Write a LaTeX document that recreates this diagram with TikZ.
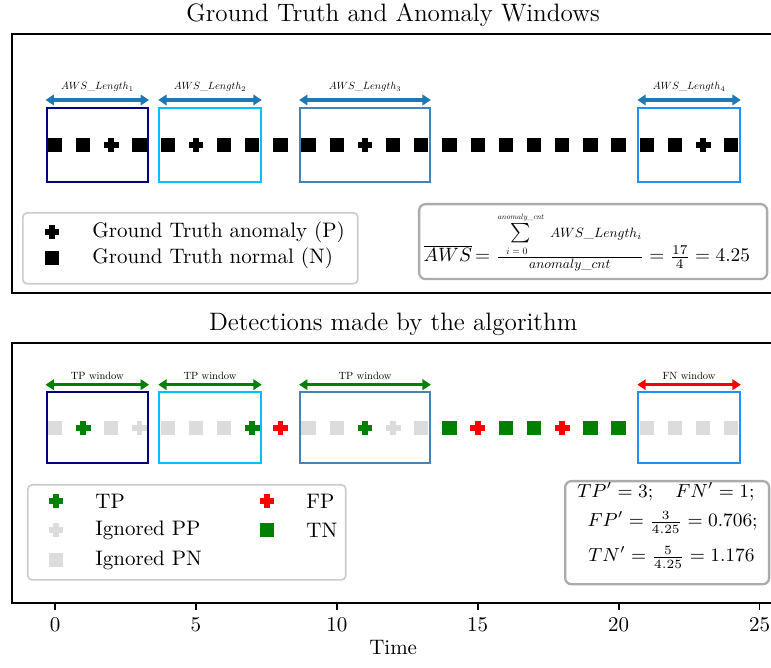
\documentclass[tikz,border=0pt]{standalone}
\usepackage{amsmath}
\usetikzlibrary{arrows.meta}
\definecolor{tabblue}{HTML}{1F77B4}
\definecolor{navywin}{HTML}{000080}
\definecolor{skywin}{HTML}{00BFFF}
\definecolor{steelwin}{HTML}{4682B4}
\definecolor{dodgerwin}{HTML}{1E90FF}
\definecolor{tpgreen}{HTML}{008000}
\definecolor{fpred}{HTML}{FF0000}
\definecolor{ignoredgray}{HTML}{DCDCDC}
\definecolor{legedge}{HTML}{CCCCCC}
\definecolor{boxedge}{HTML}{ABABAB}
\tikzset{
  sqmark/.style={rectangle, fill=#1, inner sep=0pt, minimum size=6.8pt},
  pics/plusmark/.style={code={
    \fill[#1] (-3.5pt,-1.4pt) rectangle (3.5pt,1.4pt);
    \fill[#1] (-1.4pt,-3.5pt) rectangle (1.4pt,3.5pt);}},
  winbox/.style={rectangle, draw=#1, line width=1pt, inner sep=0pt},
  winarrow/.style={color=#1, line width=1.6pt, {Triangle[width=5pt,length=4pt]}-{Triangle[width=5pt,length=4pt]}},
  winlabel/.style={scale=0.5, inner sep=0pt},
  legbox/.style={rectangle, draw=legedge, fill=white, line width=0.8pt, rounded corners=2pt, inner sep=0pt, anchor=north west},
  mathbox/.style={rectangle, draw=boxedge, fill=white, line width=1.1pt, rounded corners=3pt, inner sep=0pt, anchor=north west},
  legtext/.style={anchor=west, inner sep=0pt},
  scoretext/.style={anchor=base east, inner sep=0pt, font=\fontsize{9}{11}\selectfont},
  axisline/.style={line width=0.9pt, line cap=rect},
  tickline/.style={line width=0.9pt}
}
\begin{document}
\begin{tikzpicture}[x=13.428pt, y=-0.4765pt]
\useasboundingbox (-1.9517,0) rectangle (25.408,668);
\draw[axisline] (25.408,34) -- (-1.526,34) -- (-1.526,293) -- (25.408,293);
\node[font=\large, anchor=base] (gttitle) at (12,21.4) {Ground Truth and Anomaly Windows};
\node[winbox=navywin, minimum width=48.3pt, minimum height=35.3pt] (gw1) at (1.5,145) {};
\node[winbox=skywin, minimum width=48.3pt, minimum height=35.3pt] (gw2) at (5.5,145) {};
\node[winbox=steelwin, minimum width=61.8pt, minimum height=35.3pt] (gw3) at (11,145) {};
\node[winbox=dodgerwin, minimum width=48.3pt, minimum height=35.3pt] (gw4) at (22.5,145) {};
\draw[winarrow=tabblue] ([yshift=3.3pt]gw1.north west) -- ([yshift=3.3pt]gw1.north east);
\draw[winarrow=tabblue] ([yshift=3.3pt]gw2.north west) -- ([yshift=3.3pt]gw2.north east);
\draw[winarrow=tabblue] ([yshift=3.3pt]gw3.north west) -- ([yshift=3.3pt]gw3.north east);
\draw[winarrow=tabblue] ([yshift=3.3pt]gw4.north west) -- ([yshift=3.3pt]gw4.north east);
\node[winlabel] (gl1) at (1.5,87) {$AWS\_Length_1$};
\node[winlabel] (gl2) at (5.5,87) {$AWS\_Length_2$};
\node[winlabel] (gl3) at (11,87) {$AWS\_Length_3$};
\node[winlabel] (gl4) at (22.5,87) {$AWS\_Length_4$};
\foreach \i in {0,1,3,4,6,7,8,9,10,12,13,14,15,16,17,18,19,20,21,22,24}
  \node[sqmark=black] (gtn\i) at (\i,145) {};
\foreach \i in {2,5,11,23}
  \pic (gtp\i) at (\i,145) {plusmark=black};
\node[legbox, minimum width=159.6pt, minimum height=33.8pt] (gtleg) at (-1.171,212) {};
\pic (gtlegpm) at (-0.106,232) {plusmark=black};
\node[legtext] (gtlegp) at (1.313,232) {Ground Truth anomaly (P)};
\node[sqmark=black] (gtlegnm) at (-0.106,258) {};
\node[legtext] (gtlegn) at (1.313,258) {Ground Truth normal (N)};
\node[mathbox, minimum width=165.8pt, minimum height=35.7pt] (awsbox) at (12.881,203) {};
\node[inner sep=0pt, anchor=west, scale=0.92] (awsform) at ([xshift=2.5pt]awsbox.west) {$\overline{AWS}\mkern-2mu=\frac{\mbox{$\mathop{\textstyle\sum}\limits_{\scalebox{0.5}{$i=0$}}^{\scalebox{0.4}{$anomaly\_cnt$}}$\hspace{3pt}\scalebox{0.7}{$AWS\_Length_i$}}}{\mbox{\scalebox{0.7}{$anomaly\_cnt$}}}=\frac{17}{4}=4.25$};
\draw[axisline] (25.408,343) -- (-1.526,343) -- (-1.526,603) -- (25.408,603);
\node[font=\large, anchor=base] (dettitle) at (12,330.4) {Detections made by the algorithm};
\node[winbox=navywin, minimum width=48.3pt, minimum height=33.8pt] (dw1) at (1.5,427.5) {};
\node[winbox=skywin, minimum width=48.3pt, minimum height=33.8pt] (dw2) at (5.5,427.5) {};
\node[winbox=steelwin, minimum width=61.8pt, minimum height=33.8pt] (dw3) at (11,427.5) {};
\node[winbox=dodgerwin, minimum width=48.3pt, minimum height=33.8pt] (dw4) at (22.5,427.5) {};
\draw[winarrow=tpgreen] ([yshift=3pt]dw1.north west) -- ([yshift=3pt]dw1.north east);
\draw[winarrow=tpgreen] ([yshift=3pt]dw2.north west) -- ([yshift=3pt]dw2.north east);
\draw[winarrow=tpgreen] ([yshift=3pt]dw3.north west) -- ([yshift=3pt]dw3.north east);
\draw[winarrow=fpred] ([yshift=3pt]dw4.north west) -- ([yshift=3pt]dw4.north east);
\node[winlabel] (dl1) at (1.5,376) {TP window};
\node[winlabel] (dl2) at (5.5,376) {TP window};
\node[winlabel] (dl3) at (11,376) {TP window};
\node[winlabel] (dl4) at (22.5,376) {FN window};
\foreach \i in {0,2,4,5,6,9,10,13,21,22,23,24}
  \node[sqmark=ignoredgray] (ipn\i) at (\i,428) {};
\foreach \i in {14,16,17,19,20}
  \node[sqmark=tpgreen] (tn\i) at (\i,428) {};
\foreach \i in {3,12}
  \pic (ipp\i) at (\i,428) {plusmark=ignoredgray};
\foreach \i in {1,7,11}
  \pic (tp\i) at (\i,428) {plusmark=tpgreen};
\foreach \i in {8,15,18}
  \pic (fp\i) at (\i,428) {plusmark=fpred};
\node[legbox, minimum width=151.5pt, minimum height=45.3pt] (detleg) at (-0.994,484) {};
\pic (legtpm) at (0.035,501) {plusmark=tpgreen};
\node[legtext] (legtp) at (1.419,501) {TP};
\pic (legippm) at (0.035,530) {plusmark=ignoredgray};
\node[legtext] (legipp) at (1.419,530) {Ignored PP};
\node[sqmark=ignoredgray] (legipnm) at (0.035,560) {};
\node[legtext] (legipn) at (1.419,560) {Ignored PN};
\pic (legfpm) at (7.523,501) {plusmark=fpred};
\node[legtext] (legfp) at (8.907,501) {FP};
\node[sqmark=tpgreen] (legtnm) at (7.523,530) {};
\node[legtext] (legtn) at (8.907,530) {TN};
\node[mathbox, minimum width=97.2pt, minimum height=49.1pt] (scorebox) at (18.062,480) {};
\node[scoretext] (tpfn) at (24.84,498) {$TP'=3;\quad FN'=1;$};
\node[scoretext] (fpval) at (24.95,527) {$FP'=\frac{3}{4.25}=0.706;$};
\node[scoretext] (tnval) at (24.84,562) {$TN'=\frac{5}{4.25}=1.176$};
\foreach \t in {0,5,...,25} {
  \draw[tickline] (\t,603) -- (\t,610.3);
  \node[anchor=north, inner sep=0pt] (tick\t) at (\t,617.7) {$\t$};
}
\node[anchor=north, inner sep=0pt] (timelabel) at (12,640) {Time};
\end{tikzpicture}
\end{document}
